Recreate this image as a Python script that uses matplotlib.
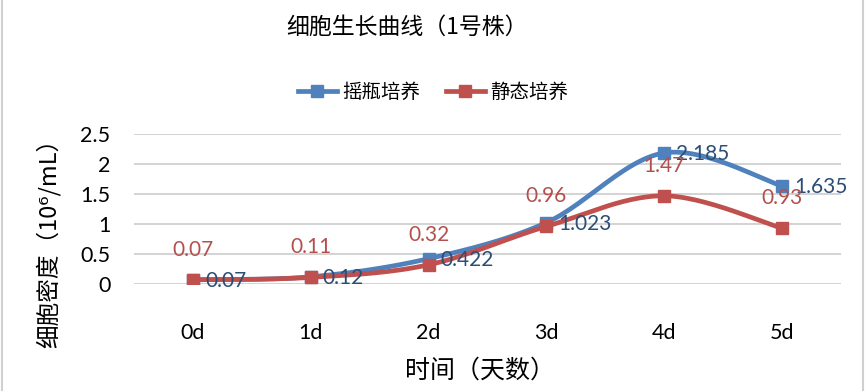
import matplotlib
matplotlib.use("Agg")
import matplotlib.pyplot as plt
from matplotlib.lines import Line2D
import numpy as np

plt.rcParams['font.family'] = ['Noto Sans CJK SC', 'DejaVu Sans']

days = ['0d', '1d', '2d', '3d', '4d', '5d']
shake = [0.07, 0.12, 0.422, 1.023, 2.185, 1.635]
static = [0.07, 0.11, 0.32, 0.96, 1.47, 0.93]
shake_labels = ['0.07', '0.12', '0.422', '1.023', '2.185', '1.635']
static_labels = ['0.07', '0.11', '0.32', '0.96', '1.47', '0.93']

blue = '#4F81BD'
red = '#C0504D'
blue_txt = '#2C4D75'
red_txt = '#B3504D'
num_font = 'Lato'


def smooth(x, y, n=30):
    # excel-like bezier smoothing between points
    x = np.asarray(x, float)
    y = np.asarray(y, float)
    px = np.concatenate([[x[0]], x, [x[-1]]])
    py = np.concatenate([[y[0]], y, [y[-1]]])
    xs, ys = [], []
    t = np.linspace(0, 1, n)
    for i in range(len(x) - 1):
        p0 = np.array([px[i + 1], py[i + 1]])
        p3 = np.array([px[i + 2], py[i + 2]])
        c1 = p0 + (p3 - np.array([px[i], py[i]])) / 6
        c2 = p3 - (np.array([px[i + 3], py[i + 3]]) - p0) / 6
        b = ((1 - t) ** 3)[:, None] * p0 + (3 * (1 - t) ** 2 * t)[:, None] * c1 \
            + (3 * (1 - t) * t ** 2)[:, None] * c2 + (t ** 3)[:, None] * p3
        xs.extend(b[:, 0])
        ys.extend(b[:, 1])
    return xs, ys


fig = plt.figure(figsize=(8.66, 3.91), dpi=100)
ax = fig.add_axes([134 / 866, 1 - 284 / 391, 707 / 866, 150 / 391])

x = np.arange(len(days))
sx, sy = smooth(x, shake)
ax.plot(sx, sy, color=blue, lw=3.4, solid_capstyle='round', zorder=3)
ax.plot(x, shake, 's', color=blue, ms=8.5, zorder=4)
rx, ry = smooth(x, static)
ax.plot(rx, ry, color=red, lw=3.4, solid_capstyle='round', zorder=5)
ax.plot(x, static, 's', color=red, ms=8.5, zorder=6)

for i in range(len(days)):
    ax.annotate(shake_labels[i], (x[i], shake[i]), xytext=(12, -1),
                textcoords='offset pixels', ha='left', va='center',
                fontsize=15, color=blue_txt, family=num_font, zorder=7)
    ax.annotate(static_labels[i], (x[i], static[i]), xytext=(0, 30),
                textcoords='offset pixels', ha='center', va='center',
                fontsize=15, color=red_txt, family=num_font, zorder=7)

ax.set_xlim(-0.5, len(days) - 0.5)
ax.set_ylim(0, 2.5)
ax.set_yticks([0, 0.5, 1, 1.5, 2, 2.5])
ax.set_yticklabels(['0', '0.5', '1', '1.5', '2', '2.5'], family=num_font, fontsize=15.5)
ax.set_xticks(x)
ax.set_xticklabels(days, family=num_font, fontsize=15.5)
ax.tick_params(axis='x', length=0, pad=28)
ax.tick_params(axis='y', length=0, pad=17)
ax.grid(axis='y', color='#D0D0D0', lw=1.3)
ax.set_axisbelow(True)
for s in ax.spines.values():
    s.set_visible(False)

fig.text(407 / 866, 1 - 27 / 391, '细胞生长曲线（1号株）', ha='center', va='center', fontsize=16.5)
fig.text(48 / 866, 1 - 237 / 391, '细胞密度（10⁶/mL）', rotation=90, ha='center', va='center',
         fontsize=17, family=['Noto Sans CJK SC', 'DejaVu Sans'])
fig.text(480 / 866, 1 - 371 / 391, '时间（天数）', ha='center', va='center', fontsize=18)

handles = [Line2D([], [], color=blue, lw=3.4, marker='s', ms=8.5),
           Line2D([], [], color=red, lw=3.4, marker='s', ms=8.5)]
fig.legend(handles, ['摇瓶培养', '静态培养'], loc='center', bbox_to_anchor=(433 / 866, 1 - 92 / 391),
           ncol=2, frameon=False, fontsize=14, handlelength=2.0, handletextpad=0.3, columnspacing=1.3)

fig.add_artist(Line2D([1.5 / 866, 1.5 / 866], [0, 1], transform=fig.transFigure, color='#D0D0D0', lw=1.5))
fig.add_artist(Line2D([863 / 866, 863 / 866], [0, 1], transform=fig.transFigure, color='#D0D0D0', lw=1.5))

fig.savefig('out.png', dpi=100)
